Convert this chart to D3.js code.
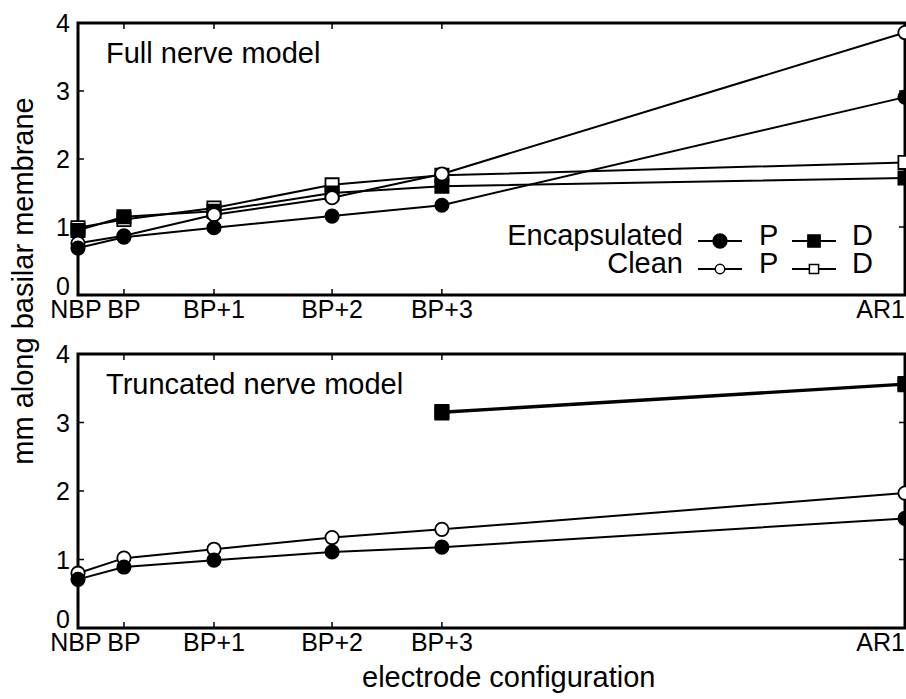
<!DOCTYPE html>
<html>
<head>
<meta charset="utf-8">
<script src="https://cdn.jsdelivr.net/npm/d3@7"></script>
<style>
  body { margin: 0; background: #fff; }
  svg { font-family: "Liberation Sans", Arial, sans-serif; }
</style>
</head>
<body>
<div id="chart"></div>
<script>
// categories + position along the axis
const configs = ["NBP", "BP", "BP+1", "BP+2", "BP+3", "AR1"];
const configPos = [0, 1, 2.96, 5.53, 7.92, 18];
const yTicks = [0, 1, 2, 3, 4];

// full nerve model
const fullEncP = [0.69, 0.85, 0.99, 1.16, 1.32, 2.91];
const fullCleanP = [0.76, 0.87, 1.18, 1.43, 1.78, 3.86];
const fullEncD = [0.95, 1.15, 1.23, 1.5, 1.6, 1.72];
const fullCleanD = [0.99, 1.11, 1.28, 1.62, 1.76, 1.95];

// truncated nerve model (D only at BP+3 and AR1)
const truncEncP = [0.71, 0.89, 0.99, 1.11, 1.18, 1.6];
const truncCleanP = [0.8, 1.02, 1.15, 1.32, 1.44, 1.97];
const truncEncD = [null, null, null, null, 3.16, 3.57];
const truncCleanD = [null, null, null, null, 3.14, 3.55];

const width = 906, height = 699;
const svg = d3.select("#chart").append("svg")
  .attr("width", width).attr("height", height);

const x = d3.scaleLinear().domain([0, 18]).range([78, 905]);

const font = 29;      // titles, legend
const tickFont = 25;  // tick labels

function drawPanel(top, bottom, series, title) {
  const y = d3.scaleLinear().domain([0, 4]).range([bottom, top]);
  const g = svg.append("g");

  // frame
  g.append("rect")
    .attr("x", x(0)).attr("y", top)
    .attr("width", x(18) - x(0)).attr("height", bottom - top)
    .attr("fill", "none").attr("stroke", "#000").attr("stroke-width", 3);

  // inward ticks, all four sides
  const tk = 6;
  yTicks.forEach((t) => {
    g.append("line").attr("x1", x(0)).attr("x2", x(0) + tk)
      .attr("y1", y(t)).attr("y2", y(t)).attr("stroke", "#000").attr("stroke-width", 1.5);
    g.append("line").attr("x1", x(18)).attr("x2", x(18) - tk)
      .attr("y1", y(t)).attr("y2", y(t)).attr("stroke", "#000").attr("stroke-width", 1.5);
    // the 0 label sits up off the x labels
    g.append("text").attr("x", x(0) - 8).attr("y", t === 0 ? y(t) - 9 : y(t)).attr("dy", "0.36em")
      .attr("text-anchor", "end").attr("font-size", tickFont).text(t);
  });
  configPos.forEach((p, i) => {
    g.append("line").attr("x1", x(p)).attr("x2", x(p))
      .attr("y1", top).attr("y2", top + tk).attr("stroke", "#000").attr("stroke-width", 1.5);
    g.append("line").attr("x1", x(p)).attr("x2", x(p))
      .attr("y1", bottom).attr("y2", bottom - tk).attr("stroke", "#000").attr("stroke-width", 1.5);
    const last = i === configs.length - 1;
    g.append("text").attr("x", i === 0 ? x(p) - 2 : x(p)).attr("y", bottom + 23)
      .attr("text-anchor", last ? "end" : "middle").attr("font-size", tickFont).text(configs[i]);
  });

  // panel title
  g.append("text").attr("x", 106).attr("y", top + 40)
    .attr("font-size", font).text(title);

  const line = d3.line()
    .defined((d) => d.v !== null)
    .x((d) => x(d.p)).y((d) => y(d.v));

  series.forEach((s) => {
    const pts = s.values.map((v, i) => ({ p: configPos[i], v: v }));
    g.append("path").datum(pts)
      .attr("fill", "none").attr("stroke", "#000").attr("stroke-width", 2)
      .attr("d", line);
    const sym = d3.symbol().type(s.shape === "circle" ? d3.symbolCircle : d3.symbolSquare)
      .size(s.shape === "circle" ? 140 : 175);
    g.selectAll(null).data(pts.filter((d) => d.v !== null)).join("path")
      .attr("transform", (d) => `translate(${x(d.p)},${y(d.v)})`)
      .attr("d", sym)
      .attr("fill", s.filled ? "#000" : "#fff")
      .attr("stroke", "#000").attr("stroke-width", 1.8);
  });
  return g;
}

drawPanel(23, 295, [
  { values: fullCleanD, shape: "square", filled: false },
  { values: fullEncD, shape: "square", filled: true },
  { values: fullCleanP, shape: "circle", filled: false },
  { values: fullEncP, shape: "circle", filled: true },
], "Full nerve model");

drawPanel(354, 628, [
  { values: truncCleanD, shape: "square", filled: false },
  { values: truncEncD, shape: "square", filled: true },
  { values: truncCleanP, shape: "circle", filled: false },
  { values: truncEncP, shape: "circle", filled: true },
], "Truncated nerve model");

// legend
const legend = svg.append("g");
const legendRows = [
  { label: "Encapsulated", filled: true, base: 245, ly: 241, pSize: 150, dSize: 150 },
  { label: "Clean", filled: false, base: 273, ly: 269, pSize: 70, dSize: 85 },
];
legendRows.forEach((r) => {
  legend.append("text").attr("x", 683).attr("y", r.base)
    .attr("text-anchor", "end").attr("font-size", font).text(r.label);
  [{ cx: 720, shape: d3.symbolCircle, size: r.pSize, txt: "P", tx: 759 },
   { cx: 814, shape: d3.symbolSquare, size: r.dSize, txt: "D", tx: 852 }].forEach((m) => {
    legend.append("line").attr("x1", m.cx - 22).attr("x2", m.cx + 22)
      .attr("y1", r.ly).attr("y2", r.ly).attr("stroke", "#000").attr("stroke-width", 2.2);
    legend.append("path").attr("transform", `translate(${m.cx},${r.ly})`)
      .attr("d", d3.symbol().type(m.shape).size(m.size))
      .attr("fill", r.filled ? "#000" : "#fff").attr("stroke", "#000").attr("stroke-width", 1.5);
    legend.append("text").attr("x", m.tx).attr("y", r.base)
      .attr("font-size", font).text(m.txt);
  });
});

// axis titles
svg.append("text")
  .attr("transform", "translate(33,281) rotate(-90)")
  .attr("text-anchor", "middle").attr("font-size", font)
  .text("mm along basilar membrane");

svg.append("text")
  .attr("x", 362).attr("y", 687)
  .attr("font-size", font)
  .text("electrode configuration");
</script>
</body>
</html>
